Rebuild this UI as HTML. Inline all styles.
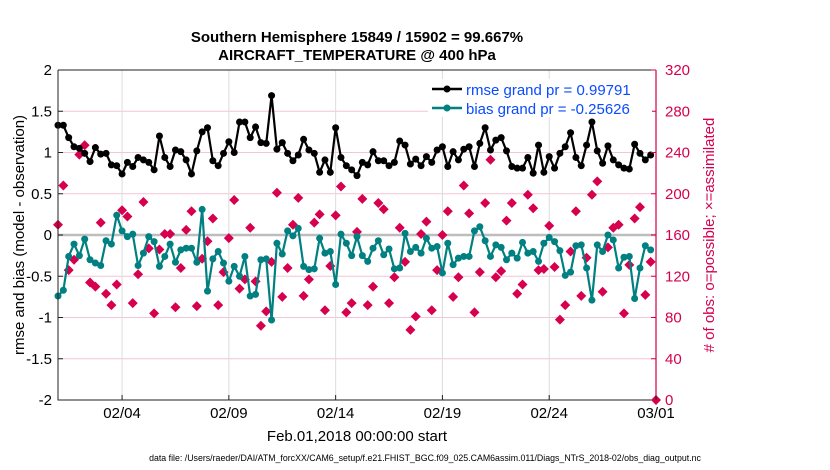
<!DOCTYPE html>
<html><head><meta charset="utf-8"><style>
html,body{margin:0;padding:0;background:#fff;}
svg{display:block;font-family:"Liberation Sans",Arial,sans-serif;}
</style></head><body>
<svg id="chart" width="830" height="470" viewBox="0 0 830 470" xmlns="http://www.w3.org/2000/svg">
<text x="357" y="42" text-anchor="middle" font-size="15" font-weight="bold">Southern Hemisphere 15849 / 15902 = 99.667%</text>
<text x="357" y="60" text-anchor="middle" font-size="15" font-weight="bold">AIRCRAFT_TEMPERATURE @ 400 hPa</text>
<g id="grid"></g>
<g id="marks"></g>
<g id="axes"></g>
<text x="357" y="441" text-anchor="middle" font-size="15">Feb.01,2018 00:00:00 start</text>
<text transform="translate(24,235) rotate(-90)" text-anchor="middle" font-size="15">rmse and bias (model - observation)</text>
<text transform="translate(714,235) rotate(-90)" text-anchor="middle" font-size="15" fill="#d6004e"># of obs: o=possible; ×=assimilated</text>
<text x="425" y="461" text-anchor="middle" font-size="8.8">data file: /Users/raeder/DAI/ATM_forcXX/CAM6_setup/f.e21.FHIST_BGC.f09_025.CAM6assim.011/Diags_NTrS_2018-02/obs_diag_output.nc</text>
<g>
<rect x="428" y="79" width="224" height="38" fill="#fff"/>
<line x1="432" y1="89" x2="462" y2="89" stroke="#000" stroke-width="2.5"/><circle cx="447" cy="89" r="3.5" fill="#000"/>
<text x="466" y="95" font-size="15" fill="#0a4bff">rmse grand pr = 0.99791</text>
<line x1="432" y1="108" x2="462" y2="108" stroke="#008080" stroke-width="2.5"/><circle cx="447" cy="108" r="3.5" fill="#008080"/>
<text x="466" y="114" font-size="15" fill="#0a4bff">bias grand pr = -0.25626</text>
</g>
</svg>
<script>
const rmse=[1.33,1.33,1.18,1.07,1.05,0.99,0.89,1.06,0.98,0.99,0.85,0.84,0.74,0.88,0.83,0.94,0.91,0.88,0.79,1.20,0.94,0.83,1.03,1.01,0.91,0.74,1.02,1.25,1.30,0.90,0.84,0.99,1.13,1.00,1.37,1.37,1.18,1.31,1.12,1.11,1.69,1.04,1.12,0.99,0.90,0.97,1.16,1.03,0.99,0.76,0.91,0.76,1.30,0.94,0.84,0.79,
0.72,0.88,0.85,1.01,0.90,0.90,0.84,0.88,1.14,1.09,0.86,0.92,0.84,0.95,0.88,1.03,1.07,0.83,1.01,0.91,1.04,1.07,0.83,1.11,1.30,1.03,1.15,1.18,1.02,0.83,0.81,0.81,0.94,0.75,1.09,0.76,0.95,0.81,0.99,1.07,1.24,0.94,0.84,1.09,1.37,1.02,0.87,1.08,0.91,0.85,0.81,0.80,1.10,0.99,0.91,0.97];
const bias=[-0.74,-0.67,-0.26,-0.11,-0.25,-0.05,-0.30,-0.34,-0.37,-0.07,-0.11,0.24,0.05,-0.02,0.01,-0.37,-0.22,-0.02,-0.08,-0.38,-0.26,-0.11,-0.33,-0.18,-0.16,-0.16,-0.33,0.31,-0.68,-0.29,-0.20,-0.34,-0.56,-0.38,-0.50,-0.26,-0.74,-0.72,-0.30,-0.29,-1.03,-0.10,-0.23,0.05,-0.01,0.08,-0.38,-0.42,-0.41,-0.04,-0.22,-0.20,-0.60,0.01,-0.10,-0.25,
-0.02,-0.25,-0.32,-0.16,-0.07,-0.24,-0.17,-0.41,-0.40,0.02,-0.20,-0.15,-0.22,-0.04,-0.16,-0.14,-0.46,-0.10,-0.36,-0.28,-0.26,-0.26,0.05,0.10,-0.07,-0.26,-0.12,-0.15,-0.30,-0.22,-0.28,-0.09,-0.22,-0.20,-0.32,-0.10,-0.03,-0.08,-0.19,-0.49,-0.45,-0.13,-0.12,-0.40,-0.79,-0.12,-0.20,0.00,-0.06,-0.40,-0.27,-0.26,-0.77,-0.40,-0.13,-0.18];
const nobs=[170,208,126,136,238,247,114,110,172,103,92,112,184,178,94,122,192,147,84,146,161,161,90,128,165,183,91,137,154,176,92,124,157,194,108,117,167,115,72,86,134,201,100,128,170,196,101,117,172,180,87,130,179,207,85,94,
163,195,92,110,191,185,94,119,167,134,68,81,161,173,87,126,160,183,100,119,208,181,85,124,191,233,119,125,174,191,103,112,199,186,126,127,169,129,78,92,144,183,101,138,199,212,105,148,167,170,84,131,176,187,102,134];
const leftTicks=[-2,-1.5,-1,-0.5,0,0.5,1,1.5,2];
const rightTicks=[0,40,80,120,160,200,240,280,320];
const dateLabels=["02/04","02/09","02/14","02/19","02/24","03/01"];
const dateDays=[3,8,13,18,23,28];

const NS="http://www.w3.org/2000/svg";
const X0=58,X1=656,Y0=400,Y1=70;
const xs=d=>X0+(X1-X0)*d/28;
const yl=v=>Y0-(v+2)/4*(Y0-Y1);
const yr=v=>Y0-v/320*(Y0-Y1);
function mk(tag,attrs,parent){const e=document.createElementNS(NS,tag);for(const k in attrs)e.setAttribute(k,attrs[k]);parent.appendChild(e);return e;}
const grid=document.getElementById('grid'),marks=document.getElementById('marks'),axes=document.getElementById('axes');
leftTicks.forEach(t=>{if(t>-2&&t<2&&t!==0){const l=mk('line',{x1:X0,x2:X1,y1:yl(t),y2:yl(t),stroke:'#f2c6d6','stroke-width':1},grid);}});
dateDays.forEach(d=>{if(d<28){const l=mk('line',{x1:xs(d),x2:xs(d),y1:Y1,y2:Y0,stroke:'#dcdcdc','stroke-width':1},grid);}});
const z=mk('line',{x1:X0,x2:X1,y1:yl(0),y2:yl(0),stroke:'#bdbdbd','stroke-width':2.5},grid);

function dia(x,y,s){return `M${x} ${y-s}L${x+s} ${y}L${x} ${y+s}L${x-s} ${y}Z`;}
nobs.forEach((v,i)=>{const x=xs(i/4),y=yr(v);const p=mk('path',{d:dia(x,y,5),fill:'#d6004e'},marks);});
const last=mk('path',{d:dia(xs(28),yr(0),5),fill:'#d6004e'},marks);

function series(arr,col,name){const pts=arr.map((v,i)=>xs(i/4)+','+yl(v)).join(' ');const pl=mk('polyline',{points:pts,fill:'none',stroke:col,'stroke-width':2.2},marks);
arr.forEach((v,i)=>{const c=mk('circle',{cx:xs(i/4),cy:yl(v),r:3.5,fill:col},marks);});}
series(bias,'#008080','bias');
series(rmse,'#000000','rmse');
const box=mk('path',{d:`M${X0} ${Y1}H${X1}M${X0} ${Y1}V${Y0}H${X1}`,stroke:'#222',fill:'none','stroke-width':1},axes);

const ra=mk('line',{x1:X1,x2:X1,y1:Y1,y2:Y0,stroke:'#d6004e','stroke-width':1.2},axes);

leftTicks.forEach(t=>{const y=yl(t);mk('line',{x1:X0,x2:X0+5,y1:y,y2:y,stroke:'#222'},axes);const tx=mk('text',{x:X0-6,y:y+5,'text-anchor':'end','font-size':15},axes);tx.textContent=String(t);});
rightTicks.forEach(t=>{const y=yr(t);mk('line',{x1:X1-5,x2:X1,y1:y,y2:y,stroke:'#d6004e'},axes);const tx=mk('text',{x:X1+9,y:y+5,'font-size':15,fill:'#d6004e'},axes);tx.textContent=String(t);});
dateLabels.forEach((s,i)=>{const x=xs(dateDays[i]);mk('line',{x1:x,x2:x,y1:Y0,y2:Y0-5,stroke:'#222'},axes);const tx=mk('text',{x:x,y:418,'text-anchor':'middle','font-size':15},axes);tx.textContent=s;});
</script>
</body></html>
